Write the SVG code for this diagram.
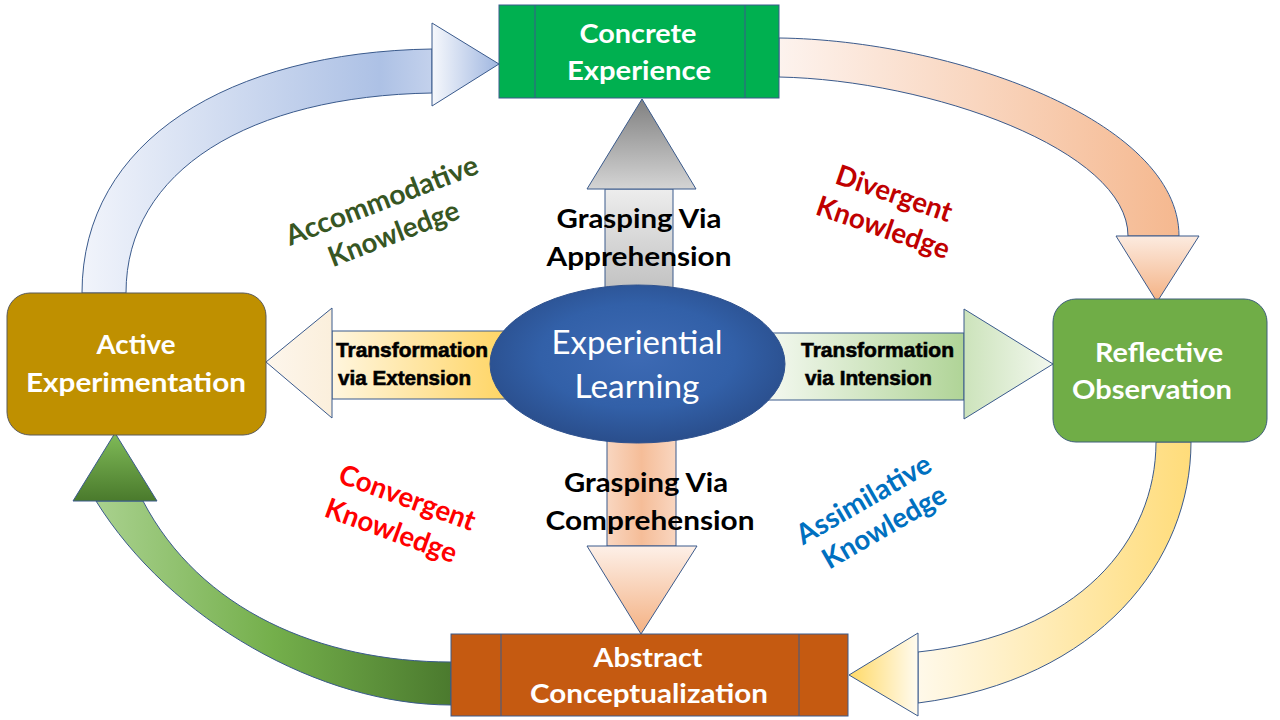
<svg xmlns="http://www.w3.org/2000/svg" width="1280" height="720" viewBox="0 0 1280 720">
<defs>
<style>
.ol{stroke:#3A5A8C;stroke-width:1}
.nt{font-family:Lato,"Open Sans",sans-serif;font-weight:bold;font-size:27px;fill:#fff;text-anchor:middle}
.gt{font-family:Lato,"Open Sans",sans-serif;font-weight:bold;font-size:27px;fill:#000;text-anchor:middle}
.tt{font-family:"Liberation Sans",Arial,sans-serif;font-weight:bold;font-size:20px;fill:#000;stroke:#000;stroke-width:0.6}
.lb{font-family:Lato,"Open Sans",sans-serif;font-weight:bold;font-size:28px;text-anchor:middle}
</style>
<linearGradient id="gBlue" gradientUnits="userSpaceOnUse" x1="82" y1="0" x2="432" y2="0"><stop offset="0" stop-color="#F1F4FB"/><stop offset="0.85" stop-color="#ADC1E5"/><stop offset="1" stop-color="#C3D1EC"/></linearGradient>
<linearGradient id="gBlueH" gradientUnits="userSpaceOnUse" x1="432" y1="0" x2="499" y2="0"><stop offset="0" stop-color="#F6F8FC"/><stop offset="1" stop-color="#9FB6E0"/></linearGradient>
<linearGradient id="gOr" gradientUnits="userSpaceOnUse" x1="779" y1="0" x2="1179" y2="0"><stop offset="0" stop-color="#FDF3EE"/><stop offset="1" stop-color="#F5B88F"/></linearGradient>
<linearGradient id="gOrH" gradientUnits="userSpaceOnUse" x1="0" y1="236" x2="0" y2="302"><stop offset="0" stop-color="#FCEBE0"/><stop offset="1" stop-color="#F4B183"/></linearGradient>
<linearGradient id="gYel" gradientUnits="userSpaceOnUse" x1="918" y1="0" x2="1191" y2="0"><stop offset="0" stop-color="#FFF9EA"/><stop offset="1" stop-color="#FFDC7A"/></linearGradient>
<linearGradient id="gYelH" gradientUnits="userSpaceOnUse" x1="849" y1="0" x2="918" y2="0"><stop offset="0" stop-color="#FFD966"/><stop offset="1" stop-color="#FFFBF0"/></linearGradient>
<linearGradient id="gGr" gradientUnits="userSpaceOnUse" x1="96" y1="0" x2="451" y2="0"><stop offset="0" stop-color="#A9D18E"/><stop offset="0.5" stop-color="#74AF4B"/><stop offset="1" stop-color="#4B7A2E"/></linearGradient>
<linearGradient id="gGrH" gradientUnits="userSpaceOnUse" x1="0" y1="433" x2="0" y2="501"><stop offset="0" stop-color="#80BB58"/><stop offset="1" stop-color="#4A7A2C"/></linearGradient>
<linearGradient id="gGray" gradientUnits="userSpaceOnUse" x1="0" y1="99" x2="0" y2="189"><stop offset="0" stop-color="#808080"/><stop offset="1" stop-color="#D4D4D4"/></linearGradient>
<linearGradient id="gGrayS" gradientUnits="userSpaceOnUse" x1="0" y1="189" x2="0" y2="300"><stop offset="0" stop-color="#EDEDED"/><stop offset="1" stop-color="#BDBDBD"/></linearGradient>
<linearGradient id="gDn" gradientUnits="userSpaceOnUse" x1="0" y1="546" x2="0" y2="634"><stop offset="0" stop-color="#FDF0E8"/><stop offset="1" stop-color="#F4B183"/></linearGradient>
<linearGradient id="gDnS" gradientUnits="userSpaceOnUse" x1="607" y1="0" x2="676" y2="0"><stop offset="0" stop-color="#F9D6C0"/><stop offset="0.5" stop-color="#F5BD98"/><stop offset="1" stop-color="#F9D6C0"/></linearGradient>
<linearGradient id="gL" gradientUnits="userSpaceOnUse" x1="332" y1="0" x2="505" y2="0"><stop offset="0" stop-color="#FFF6DF"/><stop offset="1" stop-color="#FFD565"/></linearGradient>
<linearGradient id="gLH" gradientUnits="userSpaceOnUse" x1="266" y1="0" x2="332" y2="0"><stop offset="0" stop-color="#FDF6EC"/><stop offset="1" stop-color="#FBEFDC"/></linearGradient>
<linearGradient id="gR" gradientUnits="userSpaceOnUse" x1="770" y1="0" x2="964" y2="0"><stop offset="0" stop-color="#F3F8EF"/><stop offset="1" stop-color="#B0D497"/></linearGradient>
<linearGradient id="gRH" gradientUnits="userSpaceOnUse" x1="964" y1="0" x2="1053" y2="0"><stop offset="0" stop-color="#CCE3BB"/><stop offset="1" stop-color="#F3F8EF"/></linearGradient>
<radialGradient id="gEl" cx="0.5" cy="0.45" r="0.55"><stop offset="0" stop-color="#3D6AB4"/><stop offset="0.6" stop-color="#3260A8"/><stop offset="1" stop-color="#2A4E8C"/></radialGradient>
</defs>
<rect width="1280" height="720" fill="#fff"/>
<g id="connectors">
<path class="ol" fill="url(#gBlue)" d="M82 293 C82 140 230 52 432 49 L432 93 C250 96 126 170 126 293 Z"/>
<polygon class="ol" fill="url(#gBlueH)" points="432,23 499,64 432,106"/>
<path class="ol" fill="url(#gOr)" d="M779 38 C950 40 1179 120 1179 236 L1128 236 C1128 150 930 80 779 77 Z"/>
<polygon class="ol" fill="url(#gOrH)" points="1116,236 1199,236 1157,302"/>
<path class="ol" fill="url(#gYel)" d="M1191 442 C1191 560 1100 680 918 703 L918 652 C1080 635 1156 540 1156 442 Z"/>
<polygon class="ol" fill="url(#gYelH)" points="918,633 849,675 918,716"/>
<path class="ol" fill="url(#gGr)" d="M451 705 C320 705 170 620 96 501 L143 501 C200 610 320 662 451 662 Z"/>
<polygon class="ol" fill="url(#gGrH)" points="73,501 115,433 157,501"/>
<rect class="ol" x="605" y="189" width="68" height="120" fill="url(#gGrayS)"/>
<polygon class="ol" fill="url(#gGray)" points="587,189 642,99 696,189"/>
<rect class="ol" x="607" y="420" width="69" height="126" fill="url(#gDnS)"/>
<polygon class="ol" fill="url(#gDn)" points="587,546 697,546 641,634"/>
<rect class="ol" x="332" y="331" width="190" height="68" fill="url(#gL)"/>
<polygon class="ol" fill="url(#gLH)" points="332,308 266,362 332,418"/>
<rect class="ol" x="755" y="333" width="209" height="67" fill="url(#gR)"/>
<polygon class="ol" fill="url(#gRH)" points="964,309 1053,364 964,419"/>
<text class="gt" x="639" y="228" textLength="165" lengthAdjust="spacingAndGlyphs">Grasping Via</text>
<text class="gt" x="639" y="266" textLength="185" lengthAdjust="spacingAndGlyphs">Apprehension</text>
<text class="gt" x="646" y="492" textLength="164" lengthAdjust="spacingAndGlyphs">Grasping Via</text>
<text class="gt" x="650" y="530" textLength="209" lengthAdjust="spacingAndGlyphs">Comprehension</text>
<text class="tt" x="336" y="357" textLength="152" lengthAdjust="spacingAndGlyphs">Transformation</text>
<text class="tt" x="338" y="385" textLength="133" lengthAdjust="spacingAndGlyphs">via Extension</text>
<text class="tt" x="801" y="357" textLength="153" lengthAdjust="spacingAndGlyphs">Transformation</text>
<text class="tt" x="805" y="385" textLength="127" lengthAdjust="spacingAndGlyphs">via Intension</text>
</g>
<g id="center">
<ellipse cx="637.5" cy="364" rx="147.5" ry="79" fill="url(#gEl)" stroke="#2F528F" stroke-width="1"/>
<text x="637" y="354" font-family="Lato,'Open Sans',sans-serif" font-size="33" fill="#fff" text-anchor="middle" textLength="171" lengthAdjust="spacingAndGlyphs">Experiential</text>
<text x="637" y="398" font-family="Lato,'Open Sans',sans-serif" font-size="33" fill="#fff" text-anchor="middle" textLength="125" lengthAdjust="spacingAndGlyphs">Learning</text>
</g>
<g id="concrete">
<rect class="ol" x="499" y="5" width="280" height="93" fill="#00B050"/>
<line class="ol" x1="535" y1="5" x2="535" y2="98"/>
<line class="ol" x1="745" y1="5" x2="745" y2="98"/>
<text class="nt" x="638" y="43" textLength="117" lengthAdjust="spacingAndGlyphs">Concrete</text>
<text class="nt" x="639" y="80" textLength="144" lengthAdjust="spacingAndGlyphs">Experience</text>
</g>
<g id="abstract">
<rect class="ol" x="451" y="634" width="397" height="82" fill="#C55A11"/>
<line class="ol" x1="501" y1="634" x2="501" y2="716"/>
<line class="ol" x1="799" y1="634" x2="799" y2="716"/>
<text class="nt" x="648" y="667" textLength="109" lengthAdjust="spacingAndGlyphs">Abstract</text>
<text class="nt" x="649" y="703" textLength="238" lengthAdjust="spacingAndGlyphs">Conceptualization</text>
</g>
<g id="active">
<rect x="7" y="293" width="259" height="142" rx="23" fill="#BF9000" stroke="#5A5A5A" stroke-width="1"/>
<text class="nt" x="136" y="354" textLength="79" lengthAdjust="spacingAndGlyphs">Active</text>
<text class="nt" x="136" y="392" textLength="220" lengthAdjust="spacingAndGlyphs">Experimentation</text>
</g>
<g id="reflective">
<rect x="1053" y="299" width="214" height="143" rx="23" fill="#70AD47" stroke="#3E5F7A" stroke-width="1"/>
<text class="nt" x="1159" y="362" textLength="128" lengthAdjust="spacingAndGlyphs">Reflective</text>
<text class="nt" x="1152" y="399" textLength="160" lengthAdjust="spacingAndGlyphs">Observation</text>
</g>
<g id="labels">
<g transform="translate(382,201) rotate(-21)"><text class="lb" y="9" fill="#375623" textLength="204" lengthAdjust="spacingAndGlyphs">Accommodative</text></g>
<g transform="translate(395,237) rotate(-21)"><text class="lb" y="6" fill="#375623" textLength="138" lengthAdjust="spacingAndGlyphs">Knowledge</text></g>
<g transform="translate(893,197) rotate(19)"><text class="lb" y="6" fill="#C00000" textLength="121" lengthAdjust="spacingAndGlyphs">Divergent</text></g>
<g transform="translate(882,231) rotate(19)"><text class="lb" y="6" fill="#C00000" textLength="139" lengthAdjust="spacingAndGlyphs">Knowledge</text></g>
<g transform="translate(406,501) rotate(20)"><text class="lb" y="6" fill="#FF0000" textLength="143" lengthAdjust="spacingAndGlyphs">Convergent</text></g>
<g transform="translate(390,534) rotate(20)"><text class="lb" y="6" fill="#FF0000" textLength="138" lengthAdjust="spacingAndGlyphs">Knowledge</text></g>
<g transform="translate(864,500) rotate(-30)"><text class="lb" y="9" fill="#0070C0" textLength="151" lengthAdjust="spacingAndGlyphs">Assimilative</text></g>
<g transform="translate(886,530) rotate(-30)"><text class="lb" y="6" fill="#0070C0" textLength="138" lengthAdjust="spacingAndGlyphs">Knowledge</text></g>
</g>
</svg>
